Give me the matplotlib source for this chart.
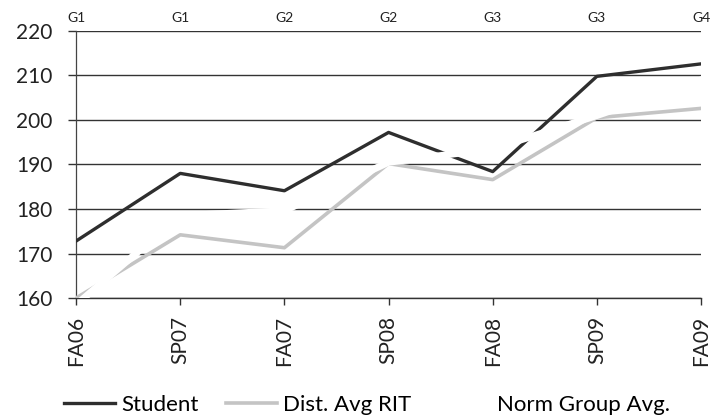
import matplotlib
matplotlib.use("Agg")
import matplotlib.pyplot as plt

# values
terms = ["FA06", "SP07", "FA07", "SP08", "FA08", "SP09", "FA09"]
grades = ["G1", "G1", "G2", "G2", "G3", "G3", "G4"]
student = [172.8, 188.0, 184.1, 197.2, 188.4, 209.8, 212.6]
dist_avg = [160.0, 174.2, 171.3, 190.2, 186.6, 200.5, 202.6]
norm_avg = [158.5, 178.5, 179.6, 190.5, 193.5, 201.0, 209.0]

plt.rcParams["font.family"] = ["Lato", "DejaVu Sans"]

fig = plt.figure(figsize=(7.11, 4.18), dpi=100)
ax = fig.add_axes([0.107, 0.287, 0.879, 0.639])

x = list(range(len(terms)))

ax.plot(x, student, color="#2e2e2e", lw=2.4, label="Student", zorder=3)
ax.plot(x, dist_avg, color="#c4c4c4", lw=2.6, label="Dist. Avg RIT", zorder=3)
ax.plot(x, norm_avg, color="white", lw=5, label="Norm Group Avg.", zorder=4)

ax.set_xlim(0, 6)
ax.set_ylim(160, 220)
ax.set_yticks(range(160, 221, 10))
ax.set_xticks(x)
ax.set_xticklabels(terms, rotation=90, fontsize=15, color="#222222")
ax.tick_params(axis="y", labelsize=15, labelcolor="#222222", length=6,
               width=1.0, color="#333333", pad=11)
ax.tick_params(axis="x", length=5, width=1.0, color="#333333", pad=8)

ax.grid(axis="y", color="#333333", lw=1.0)
ax.set_axisbelow(True)
for side in ["top", "right"]:
    ax.spines[side].set_visible(False)
ax.spines["left"].set_color("#444444")
ax.spines["left"].set_linewidth(0.9)
ax.spines["bottom"].set_color("#333333")
ax.spines["bottom"].set_linewidth(1.0)

# grade labels along the top
top = ax.secondary_xaxis("top")
top.set_xticks(x)
top.set_xticklabels(grades, fontsize=10, color="#222222")
top.tick_params(length=0, pad=5)
top.spines["top"].set_visible(False)

fig.legend(loc="center", bbox_to_anchor=(0.516, 0.031), ncol=3, frameon=False,
           fontsize=16, handlelength=2.3, handletextpad=0.27,
           columnspacing=1.25)

fig.savefig("out.png", dpi=100, facecolor="white")
